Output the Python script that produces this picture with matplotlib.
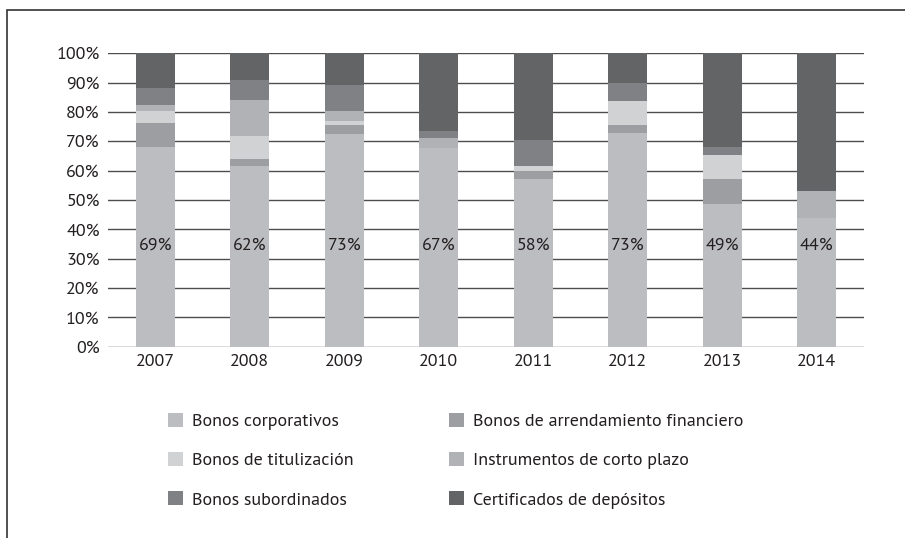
import matplotlib
matplotlib.use("Agg")
import matplotlib.pyplot as plt
from matplotlib.patches import Rectangle, Patch
from matplotlib import font_manager as fm
import numpy as np

years = ["2007", "2008", "2009", "2010", "2011", "2012", "2013", "2014"]
corporativos = [68.1, 61.4, 72.5, 67.8, 57.0, 72.9, 48.5, 43.7]
arrendamiento = [8.2, 2.7, 3.1, 0.0, 2.7, 2.7, 8.8, 0.0]
titulizacion = [4.0, 7.8, 1.3, 0.0, 1.7, 8.1, 8.1, 0.0]
corto_plazo = [2.1, 12.2, 3.4, 3.4, 0.0, 0.0, 0.0, 9.2]
subordinados = [5.8, 6.7, 8.9, 2.4, 9.1, 6.2, 2.7, 0.0]
certificados = [11.8, 9.2, 10.8, 26.4, 29.5, 10.1, 31.9, 47.1]
bar_labels = ["69%", "62%", "73%", "67%", "58%", "73%", "49%", "44%"]
label_level = 34.5
yticks = list(range(0, 101, 10))

series = [
    ("Bonos corporativos", corporativos, "#bcbdc0"),
    ("Bonos de arrendamiento financiero", arrendamiento, "#9d9ea1"),
    ("Bonos de titulización", titulizacion, "#d1d2d4"),
    ("Instrumentos de corto plazo", corto_plazo, "#b1b2b5"),
    ("Bonos subordinados", subordinados, "#808184"),
    ("Certificados de depósitos", certificados, "#636466"),
]

available = {f.name for f in fm.fontManager.ttflist}
FONT = [f for f in ["PT Sans", "Source Sans Pro", "Lato"] if f in available]
FONT.append("DejaVu Sans")
TXT = "#231f20"
FS = 13
plt.rcParams["font.family"] = FONT

fig = plt.figure(figsize=(9.05, 5.38), dpi=100)
W, H = 905, 538
ax = fig.add_axes([108 / W, 1 - 346.7 / H, (864 - 108) / W, (346.7 - 53.2) / H])

x = np.arange(len(years))
bottom = np.zeros(len(years))
handles = {}
for name, vals, col in series:
    v = np.array(vals)
    ax.bar(x, v, bottom=bottom, width=0.41, color=col, zorder=3, linewidth=0)
    bottom += v
    handles[name] = Patch(facecolor=col, edgecolor="none")

for xi, lab in zip(x, bar_labels):
    ax.text(xi, label_level, lab, ha="center", va="center", fontsize=FS, color=TXT, zorder=4)

ax.set_xlim(-0.5, len(years) - 0.5)
ax.set_ylim(0, 100)
ax.set_yticks(yticks)
ax.set_yticklabels([f"{t}%" for t in yticks])
ax.set_xticks(x)
ax.set_xticklabels(years)
ax.yaxis.grid(True, color="#4d4d4d", linewidth=1.0, zorder=0)
ax.set_axisbelow(True)
for s in ax.spines.values():
    s.set_visible(False)
ax.tick_params(axis="both", length=0, labelsize=FS, colors=TXT)
ax.tick_params(axis="y", pad=6)
ax.tick_params(axis="x", pad=5)

col1 = ["Bonos corporativos", "Bonos de titulización", "Bonos subordinados"]
col2 = ["Bonos de arrendamiento financiero", "Instrumentos de corto plazo",
        "Certificados de depósitos"]
leg_kw = dict(loc="upper left", frameon=False, fontsize=FS, handlelength=0.85,
              handleheight=0.8, handletextpad=0.5, labelspacing=1.22,
              labelcolor=TXT, borderpad=0, borderaxespad=0)
leg1 = fig.legend([handles[n] for n in col1], col1,
                  bbox_to_anchor=(168 / W, 1 - 413 / H), **leg_kw)
leg2 = fig.legend([handles[n] for n in col2], col2,
                  bbox_to_anchor=(449 / W, 1 - 413 / H), **leg_kw)

fig.patches.append(Rectangle((7 / W, -0.1), 1.2, 1 - 10 / H + 0.1, transform=fig.transFigure,
                             fill=False, edgecolor="#333333", linewidth=1.2))

fig.savefig("out.png", dpi=100)
